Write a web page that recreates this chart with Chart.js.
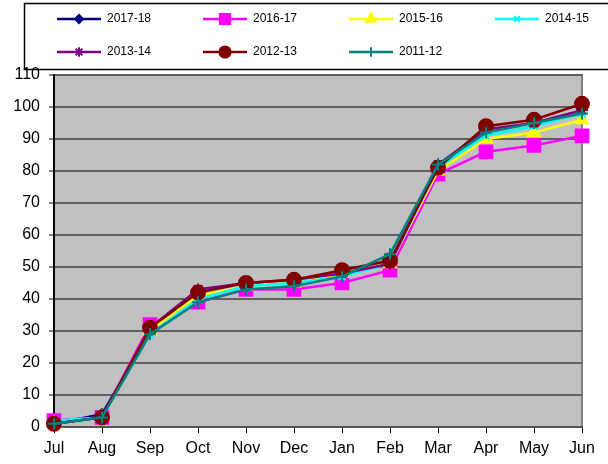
<!DOCTYPE html>
<html>
<head>
<meta charset="utf-8">
<script src="https://cdn.jsdelivr.net/npm/chart.js@4"></script>
<style>
  html, body { margin: 0; padding: 0; background: #fff; }
  #wrap { width: 608px; height: 464px; }
</style>
</head>
<body>
<div id="wrap"><canvas id="months-chart" width="608" height="464"></canvas></div>
<script>
const months = ["Jul", "Aug", "Sep", "Oct", "Nov", "Dec", "Jan", "Feb", "Mar", "Apr", "May", "Jun"];

const y2017_18 = [1, 4, 30];
const y2016_17 = [2, 3, 32, 39, 43, 43, 45, 49, 79, 86, 88, 91];
const y2015_16 = [1, 3, 30, 41, 44, 45, 48, 51, 80, 90, 92, 96];
const y2014_15 = [2, 3, 29, 40, 44, 45, 47, 51, 81, 91, 94, 98];
const y2013_14 = [1, 3, 31, 43, 45, 46, 48, 51, 82, 93, 95, 99];
const y2012_13 = [1, 3, 31, 42, 45, 46, 49, 52, 81, 94, 96, 101];
const y2011_12 = [1, 3, 29, 39, 43, 44, 47, 54, 82, 92, 95, 98];

const seriesNames = ["2017-18", "2016-17", "2015-16", "2014-15", "2013-14", "2012-13", "2011-12"];
const seriesData = [y2017_18, y2016_17, y2015_16, y2014_15, y2013_14, y2012_13, y2011_12];
const seriesColors = ["#000080", "#FF00FF", "#FFFF00", "#00FFFF", "#800080", "#800000", "#008080"];
const seriesMarkers = ["rectRot", "rect", "triangle", "crossRot", "star", "circle", "cross"];
const markerSizes = [5, 9, 7, 5, 6, 7, 6];

const datasets = seriesNames.map((name, i) => ({
  label: name,
  data: seriesData[i],
  borderColor: seriesColors[i],
  backgroundColor: seriesColors[i],
  borderWidth: 2.5,
  pointStyle: seriesMarkers[i],
  pointRadius: markerSizes[i],
  pointBorderWidth: 2,
  tension: 0,
  clip: false,
  order: seriesNames.length - i,
}));

// gray plot area like the spreadsheet chart
const plotBackground = {
  id: "plotBackground",
  beforeDraw(chart) {
    const { ctx, chartArea: a } = chart;
    ctx.save();
    ctx.fillStyle = "#C0C0C0";
    ctx.fillRect(a.left, a.top, a.right - a.left, a.bottom - a.top);
    ctx.strokeStyle = "#808080";
    ctx.lineWidth = 2;
    ctx.beginPath();
    ctx.moveTo(a.left, a.top);
    ctx.lineTo(a.right, a.top);
    ctx.lineTo(a.right, a.bottom);
    ctx.stroke();
    ctx.restore();
  },
};

// legend with line + marker samples in a framed box
const boxLegend = {
  id: "boxLegend",
  afterDraw(chart) {
    const ctx = chart.ctx;
    ctx.save();
    ctx.strokeStyle = "#000";
    ctx.lineWidth = 1.5;
    ctx.strokeRect(24.5, 3.5, 620, 66);
    ctx.font = "12px 'Liberation Sans', Arial, sans-serif";
    ctx.textBaseline = "middle";
    seriesNames.forEach((name, i) => {
      const col = i % 4;
      const row = Math.floor(i / 4);
      const x = 57 + col * 146;
      const y = 19 + row * 33;
      ctx.strokeStyle = seriesColors[i];
      ctx.lineWidth = 2.5;
      ctx.beginPath();
      ctx.moveTo(x, y);
      ctx.lineTo(x + 44, y);
      ctx.stroke();
      ctx.fillStyle = seriesColors[i];
      ctx.strokeStyle = seriesColors[i];
      ctx.lineWidth = 2;
      Chart.helpers.drawPoint(ctx, {
        pointStyle: seriesMarkers[i],
        radius: markerSizes[i] * 0.8,
        rotation: 0,
        borderWidth: 2,
      }, x + 22, y);
      ctx.fillStyle = "#000";
      ctx.fillText(name, x + 50, y);
    });
    ctx.restore();
  },
};

new Chart(document.getElementById("months-chart"), {
  type: "line",
  data: {
    labels: months,
    datasets: datasets,
  },
  options: {
    responsive: false,
    animation: false,
    layout: {
      padding: { top: 75, right: 26, left: 0, bottom: 0 },
    },
    plugins: {
      legend: { display: false },
      tooltip: { enabled: false },
    },
    scales: {
      x: {
        offset: false,
        grid: {
          drawOnChartArea: false,
          tickLength: 6,
          tickColor: "#000",
        },
        border: { color: "#555", width: 2 },
        ticks: {
          color: "#000",
          padding: 6,
          maxRotation: 0,
          autoSkip: false,
          font: { family: "'Liberation Sans', Arial, sans-serif", size: 16 },
        },
        afterFit(scale) {
          scale.height = 37;
        },
      },
      y: {
        min: 0,
        max: 110,
        ticks: {
          stepSize: 10,
          color: "#000",
          padding: 9,
          font: { family: "'Liberation Sans', Arial, sans-serif", size: 16 },
        },
        grid: {
          color: "#606060",
          lineWidth: 2,
          tickLength: 5,
          tickColor: "#000",
          tickWidth: 1,
        },
        border: { color: "#000", width: 2 },
        afterFit(scale) {
          scale.width = 54;
        },
      },
    },
  },
  plugins: [plotBackground, boxLegend],
});
</script>
</body>
</html>
